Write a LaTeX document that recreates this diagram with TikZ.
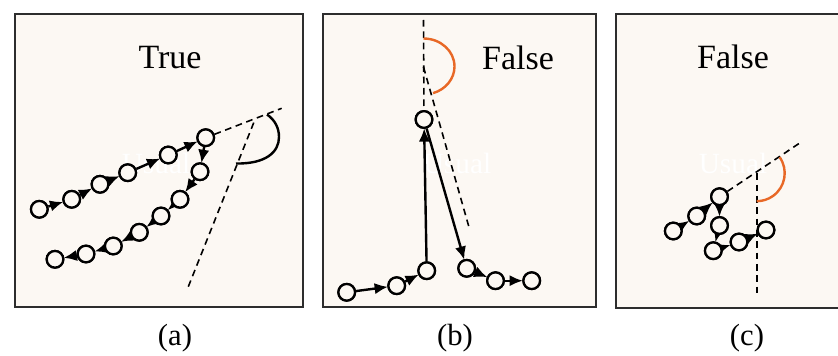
\documentclass[tikz,border=0pt]{standalone}
\usepackage{fontspec}
\setmainfont{Liberation Serif}
\usetikzlibrary{arrows.meta}
\definecolor{cream}{RGB}{252,248,243}
\definecolor{frame}{RGB}{45,45,45}
\definecolor{arcorange}{RGB}{232,104,38}
\tikzset{
  pt/.style={circle,draw=black,fill=cream,line width=1.7pt,minimum size=12.5pt,inner sep=0pt},
  mv/.style={line width=1.8pt,-{Latex[length=10pt,width=8.5pt]},shorten >=-0.5pt},
  guide/.style={dashed,dash pattern=on 5pt off 3.5pt,line width=1.2pt},
  panel/.style={draw=frame,fill=cream,line width=1.3pt},
  verdict/.style={font=\fontsize{25.5}{28}\selectfont},
  ghost/.style={text=white,font=\fontsize{22}{24}\selectfont},
  subcap/.style={font=\fontsize{23}{26}\selectfont},
  angarc/.style={line width=1.8pt}
}
\begin{document}
\begin{tikzpicture}[x=0.75pt,y=-0.75pt]
\useasboundingbox (0,0) rectangle (838,356);
\clip (0,0) rectangle (838,356);
% panels
\draw[panel] (15,14) rectangle (303,307);
\draw[panel] (323,14) rectangle (596,307);
\draw[panel] (616,14) rectangle (860,308);
% titles
\node[verdict] (ta) at (170,58) {True};
\node[verdict] (tb) at (518,58) {False};
\node[verdict] (tc) at (733,57) {False};
% ghost watermark text
\node[ghost] (ga) at (156,163) {Usual};
\node[ghost] (gb) at (457,163) {Usual};
\node[ghost] (gc) at (733,163) {Usual};
% captions
\node[subcap] (ca) at (175,338) {(a)};
\node[subcap] (cb) at (455,338) {(b)};
\node[subcap] (cc) at (747,338) {(c)};

% ---------------- panel (a)
\coordinate (aE) at (281.7,108.3);
\coordinate (aX) at (255,119.5);
\coordinate (aL) at (188.3,286.7);
\node[pt] (a1) at (39.3,209.3) {};
\node[pt] (a2) at (71.7,199.3) {};
\node[pt] (a3) at (100,184.3) {};
\node[pt] (a4) at (127.7,172.7) {};
\node[pt] (a5) at (168.3,155) {};
\node[pt] (a6) at (205.7,137.7) {};
\node[pt] (a7) at (200,171.7) {};
\node[pt] (a8) at (180,199.3) {};
\node[pt] (a9) at (161,216) {};
\node[pt] (a10) at (139.3,232.3) {};
\node[pt] (a11) at (113.3,246) {};
\node[pt] (a12) at (86,254) {};
\node[pt] (a13) at (55,259.3) {};
\draw[guide] (a6) -- (aE);
\draw[guide] (aL) -- (aX);
\coordinate (aA1) at (267,114.5);
\coordinate (aA2) at (236,163.5);
\draw[angarc] (aA1) .. controls (275,120) and (279,128) .. (279,137)
  .. controls (279,152) and (266,164) .. (aA2);
\foreach \i/\j in {1/2,2/3,3/4,4/5,5/6,6/7,7/8,8/9,9/10,10/11,11/12,12/13}
  \draw[mv] (a\i) -- (a\j);
\foreach \i in {1,...,13} \node[pt] at (a\i) {};

% ---------------- panel (b)
\coordinate (bT) at (423.5,20);
\coordinate (bX) at (423.5,67);
\coordinate (bE) at (469.3,228.3);
\node[pt] (b1) at (346.7,292.3) {};
\node[pt] (b2) at (396.7,285.7) {};
\node[pt] (b3) at (426.7,270.7) {};
\node[pt] (bt) at (424,119.5) {};
\node[pt] (b4) at (466.7,268.3) {};
\node[pt] (b5) at (495.5,280.7) {};
\node[pt] (b6) at (531.7,280.7) {};
\draw[guide] (bT) -- (bt);
\draw[guide] (bX) -- (bE);
\draw[angarc,arcorange] (423.5,38.5) arc[start angle=-90,end angle=72,x radius=31,y radius=28];
\foreach \i/\j in {1/2,2/3,3/t,t/4,4/5,5/6}
  \draw[mv] (b\i) -- (b\j);
\foreach \i in {1,2,3,t,4,5,6} \node[pt] at (b\i) {};

% ---------------- panel (c)
\coordinate (cE) at (801.7,141.7);
\coordinate (cX) at (756.7,173.2);
\coordinate (cB) at (756.7,293.3);
\node[pt] (c1) at (673.3,231) {};
\node[pt] (c2) at (696.7,216) {};
\node[pt] (c3) at (719.5,196.7) {};
\node[pt] (c4) at (719.5,225.5) {};
\node[pt] (c5) at (713.3,250.7) {};
\node[pt] (c6) at (739,242) {};
\node[pt] (c7) at (766,230) {};
\draw[guide] (c3) -- (cE);
\draw[guide] (cX) -- (cB);
\draw[angarc,arcorange] ([shift={(-35:28)}]cX) arc[start angle=-35,end angle=90,radius=28];
\foreach \i/\j in {1/2,2/3,3/4,4/5,5/6,6/7}
  \draw[mv] (c\i) -- (c\j);
\foreach \i in {1,...,7} \node[pt] at (c\i) {};
\end{tikzpicture}
\end{document}
